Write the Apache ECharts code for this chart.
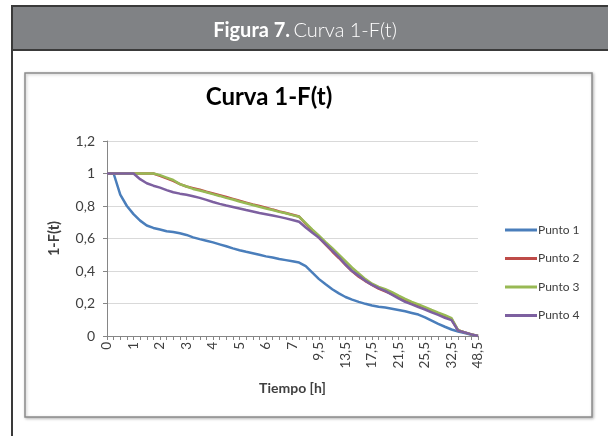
<!DOCTYPE html>
<html><head><meta charset="utf-8">
<script src="https://cdn.jsdelivr.net/npm/echarts@6/dist/echarts.min.js"></script>
<style>html,body{margin:0;padding:0;background:#fff}#c{width:608px;height:436px}</style>
</head><body><div id="c"></div>
<script>
const times = [0,0.25,0.5,0.75,1,1.25,1.5,1.75,2,2.25,2.5,2.75,3,3.25,3.5,3.75,4,4.25,4.5,4.75,5,5.25,5.5,5.75,6,6.25,6.5,6.75,7,
  7.5,8,8.5,9.5,10.5,11.5,12.5,13.5,14.5,15.5,16.5,17.5,18.5,19.5,20.5,21.5,22.5,23.5,24.5,25.5,26.5,28.5,30.5,32.5,36.5,40.5,44.5,48.5];
const punto1 = [1,1,0.87,0.8,0.75,0.71,0.68,0.665,0.655,0.645,0.64,0.632,0.622,0.607,0.596,0.586,0.576,0.564,0.552,0.539,0.528,0.518,0.509,0.5,0.49,0.483,0.474,0.467,0.46,
  0.452,0.43,0.39,0.35,0.318,0.288,0.262,0.24,0.224,0.21,0.198,0.188,0.18,0.175,0.168,0.16,0.152,0.142,0.132,0.115,0.095,0.075,0.057,0.04,0.028,0.018,0.008,0];
const punto2 = [1,1,1,1,1,1,1,1,0.985,0.97,0.955,0.935,0.92,0.91,0.9,0.888,0.877,0.866,0.855,0.844,0.832,0.821,0.81,0.8,0.79,0.778,0.767,0.757,0.746,
  0.735,0.69,0.648,0.605,0.562,0.52,0.48,0.438,0.398,0.365,0.338,0.315,0.292,0.275,0.258,0.238,0.218,0.2,0.185,0.17,0.152,0.135,0.12,0.103,0.035,0.022,0.01,0];
const punto3 = [1,1,1,1,1,1,1,1,0.99,0.975,0.96,0.935,0.92,0.905,0.895,0.885,0.873,0.862,0.85,0.84,0.828,0.817,0.806,0.795,0.785,0.775,0.764,0.755,0.744,
  0.734,0.695,0.655,0.617,0.578,0.54,0.5,0.46,0.42,0.385,0.35,0.322,0.302,0.288,0.27,0.248,0.228,0.21,0.195,0.178,0.16,0.143,0.128,0.11,0.035,0.022,0.01,0];
const punto4 = [1,1,1,1,1,0.965,0.94,0.925,0.913,0.898,0.885,0.876,0.869,0.86,0.85,0.838,0.825,0.813,0.803,0.794,0.785,0.775,0.766,0.757,0.749,0.741,0.733,0.724,0.714,
  0.703,0.668,0.635,0.604,0.565,0.525,0.485,0.44,0.4,0.37,0.34,0.315,0.295,0.278,0.255,0.232,0.21,0.195,0.178,0.163,0.145,0.13,0.112,0.098,0.033,0.022,0.01,0];
const seriesNames = ['Punto 1','Punto 2','Punto 3','Punto 4'];
const seriesData = [punto1, punto2, punto3, punto4];
const colors = ['#4a7ebb','#be4b48','#98b954','#7d60a0'];
const comma = v => String(v).replace('.', ',');

const chart = echarts.init(document.getElementById('c'), null, {renderer:'canvas'});
chart.setOption({
  animation:false,
  color: colors,
  graphic:[
    {type:'rect', shape:{x:12,y:6,width:600,height:440}, style:{fill:'#fff', stroke:'#3a3a3a', lineWidth:2}, z:-10},
    {type:'rect', shape:{x:12,y:6,width:600,height:44}, style:{fill:'#808285', stroke:'#3a3a3a', lineWidth:2}, z:-9},
    {type:'text', x:305, y:31, style:{text:'{b|Figura 7.} {n|Curva 1-F(t)}', align:'center', verticalAlign:'middle',
      rich:{b:{fontFamily:'Lato', fontWeight:'bold', fontSize:20, fill:'#fff'}, n:{fontFamily:'Lato', fontWeight:300, fontSize:20, fill:'#fff'}}}, z:-8},
    {type:'rect', shape:{x:25,y:73,width:567,height:344}, style:{fill:'#fff', stroke:'#8c8c8c', lineWidth:1.5, shadowBlur:3, shadowColor:'rgba(0,0,0,0.25)', shadowOffsetX:1, shadowOffsetY:1}, z:-7},
    {type:'text', x:269, y:97, style:{text:'Curva 1-F(t)', align:'center', verticalAlign:'middle', fontFamily:'Lato', fontWeight:'bold', fontSize:24, fill:'#000'}, z:5}
  ],
  legend:{
    orient:'vertical', left:500, top:219, itemWidth:32, itemHeight:3, itemGap:16.5, icon:'rect',
    textStyle:{fontFamily:'Lato', fontSize:12, color:'#404040', padding:[0,0,0,-4]},
    data: seriesNames
  },
  grid:{left:107, right:130, top:141, bottom:100, containLabel:false},
  xAxis:{
    type:'category', data: times, boundaryGap:false,
    name:'Tiempo [h]', nameLocation:'middle', nameGap:45,
    nameTextStyle:{fontFamily:'Lato', fontWeight:'bold', fontSize:14, color:'#404040'},
    axisLine:{lineStyle:{color:'#868686'}},
    axisTick:{interval:0, length:4, lineStyle:{color:'#868686'}},
    axisLabel:{interval:3, rotate:90, fontFamily:'Lato', fontSize:13.5, color:'#404040', margin:6, formatter: v => comma(v)},
    splitLine:{show:false}
  },
  yAxis:{
    type:'value', min:0, max:1.2, interval:0.2,
    name:'1-F(t)', nameLocation:'middle', nameGap:45,
    nameTextStyle:{fontFamily:'Lato', fontWeight:'bold', fontSize:14.5, color:'#404040'},
    axisLine:{show:true, lineStyle:{color:'#868686'}},
    axisTick:{show:true, length:4, lineStyle:{color:'#868686'}},
    axisLabel:{fontFamily:'Lato', fontSize:14, color:'#404040', margin:12, formatter: v => comma(Math.round(v*10)/10)},
    splitLine:{lineStyle:{color:'#d9d9d9', width:1.2}}
  },
  series: seriesNames.map((n,i)=>({
    name:n, type:'line', data: seriesData[i], showSymbol:false, symbol:'none',
    lineStyle:{width:2.5, color:colors[i]}, itemStyle:{color:colors[i]}, z:2+i
  }))
});
</script></body></html>
